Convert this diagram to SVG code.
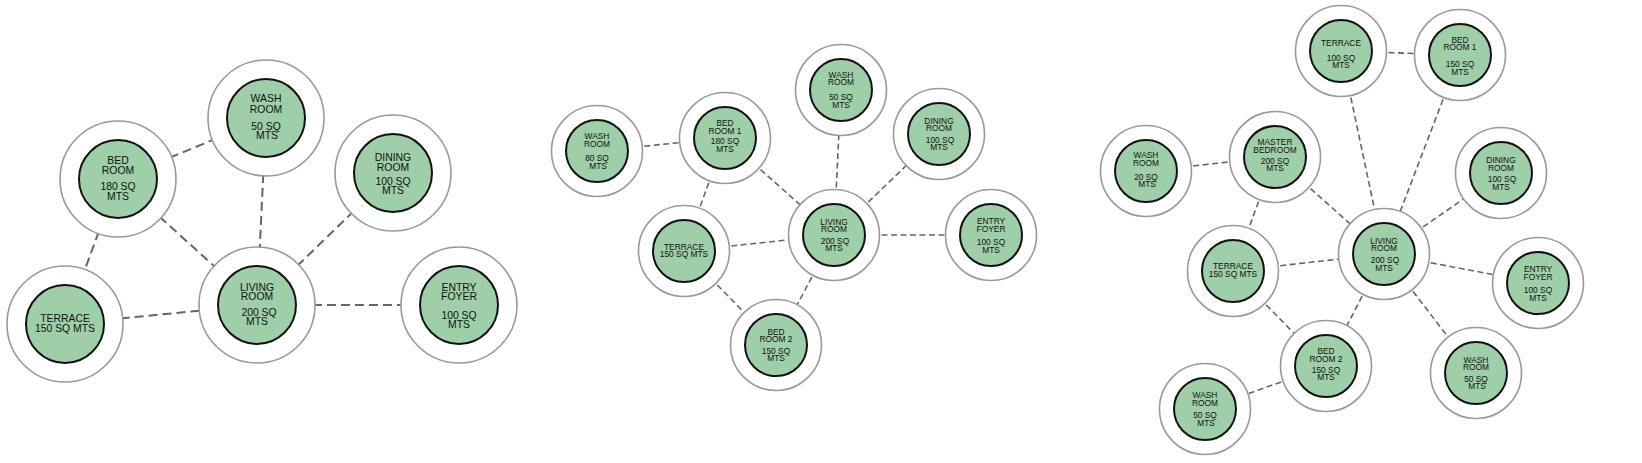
<svg xmlns="http://www.w3.org/2000/svg" width="1642" height="463" viewBox="0 0 1642 463">
<style>
.o{fill:#fff;stroke:#999;stroke-width:1.6}
.i{fill:#9ecfa8;stroke:#111;stroke-width:2}
.c1{stroke:#666;stroke-width:2;stroke-dasharray:9 5;fill:none}
.c2{stroke:#666;stroke-width:1.6;stroke-dasharray:6 3.5;fill:none}
.t1{font-family:"Liberation Sans",Arial,sans-serif;font-size:10.4px;fill:#111;text-anchor:middle}
.t2{font-family:"Liberation Sans",Arial,sans-serif;font-size:8.4px;fill:#111;text-anchor:middle}
</style>
<rect width="1642" height="463" fill="#fff"/>
<g id="connectors">
<!-- diagram 1 -->
<line class="c1" x1="118" y1="179" x2="266" y2="118"/>
<line class="c1" x1="266" y1="118" x2="257" y2="305"/>
<line class="c1" x1="118" y1="179" x2="257" y2="305"/>
<line class="c1" x1="118" y1="179" x2="65" y2="324"/>
<line class="c1" x1="65" y1="324" x2="257" y2="305"/>
<line class="c1" x1="257" y1="305" x2="393" y2="173"/>
<line class="c1" x1="257" y1="305" x2="459" y2="305"/>
<!-- diagram 2 -->
<line class="c2" x1="597" y1="151" x2="725" y2="138"/>
<line class="c2" x1="725" y1="138" x2="684" y2="251"/>
<line class="c2" x1="725" y1="138" x2="834" y2="235"/>
<line class="c2" x1="684" y1="251" x2="834" y2="235"/>
<line class="c2" x1="684" y1="251" x2="776" y2="345"/>
<line class="c2" x1="834" y1="235" x2="776" y2="345"/>
<line class="c2" x1="834" y1="235" x2="841" y2="90"/>
<line class="c2" x1="834" y1="235" x2="939" y2="134"/>
<line class="c2" x1="834" y1="235" x2="991" y2="235"/>
<!-- diagram 3 -->
<line class="c2" x1="1146" y1="171" x2="1275" y2="157"/>
<line class="c2" x1="1275" y1="157" x2="1233" y2="271"/>
<line class="c2" x1="1275" y1="157" x2="1384" y2="254"/>
<line class="c2" x1="1341" y1="51" x2="1460" y2="55"/>
<line class="c2" x1="1341" y1="51" x2="1384" y2="254"/>
<line class="c2" x1="1460" y1="55" x2="1384" y2="254"/>
<line class="c2" x1="1233" y1="271" x2="1384" y2="254"/>
<line class="c2" x1="1233" y1="271" x2="1326" y2="366"/>
<line class="c2" x1="1384" y1="254" x2="1326" y2="366"/>
<line class="c2" x1="1326" y1="366" x2="1205" y2="409"/>
<line class="c2" x1="1384" y1="254" x2="1476" y2="373"/>
<line class="c2" x1="1384" y1="254" x2="1501" y2="173"/>
<line class="c2" x1="1384" y1="254" x2="1538" y2="283"/>
</g>

<!-- Diagram 1 nodes -->
<g id="d1-wash" transform="translate(266,118)">
<circle class="o" r="58"/><circle class="i" r="39"/>
<text class="t1"><tspan x="0" y="-16">WASH</tspan><tspan x="0" y="-5">ROOM</tspan><tspan x="0" y="12">50 SQ</tspan><tspan x="1" y="21.4">MTS</tspan></text>
</g>
<g id="d1-bed" transform="translate(118,179)">
<circle class="o" r="58"/><circle class="i" r="39"/>
<text class="t1"><tspan x="0" y="-15">BED</tspan><tspan x="0" y="-5">ROOM</tspan><tspan x="0" y="11">180 SQ</tspan><tspan x="0" y="20.7">MTS</tspan></text>
</g>
<g id="d1-living" transform="translate(257,305)">
<circle class="o" r="58"/><circle class="i" r="39"/>
<text class="t1"><tspan x="0" y="-14">LIVING</tspan><tspan x="0" y="-4.6">ROOM</tspan><tspan x="2" y="11.4">200 SQ</tspan><tspan x="0" y="19.8">MTS</tspan></text>
</g>
<g id="d1-terrace" transform="translate(65,324)">
<circle class="o" r="58"/><circle class="i" r="39"/>
<text class="t1"><tspan x="0" y="-2">TERRACE</tspan><tspan x="0" y="8.4">150 SQ MTS</tspan></text>
</g>
<g id="d1-dining" transform="translate(393,173)">
<circle class="o" r="58"/><circle class="i" r="39"/>
<text class="t1"><tspan x="0" y="-11.6">DINING</tspan><tspan x="0" y="-2.3">ROOM</tspan><tspan x="0" y="12">100 SQ</tspan><tspan x="0" y="21">MTS</tspan></text>
</g>
<g id="d1-entry" transform="translate(459,305)">
<circle class="o" r="58"/><circle class="i" r="39"/>
<text class="t1"><tspan x="0" y="-14">ENTRY</tspan><tspan x="0" y="-4.6">FOYER</tspan><tspan x="0" y="13.7">100 SQ</tspan><tspan x="0" y="22.7">MTS</tspan></text>
</g>

<!-- Diagram 2 nodes -->
<g id="d2-wash80" transform="translate(597,151)">
<circle class="o" r="45.5"/><circle class="i" r="31"/>
<text class="t2"><tspan x="0" y="-12">WASH</tspan><tspan x="0" y="-4.3">ROOM</tspan><tspan x="0" y="10">80 SQ</tspan><tspan x="1" y="17.6">MTS</tspan></text>
</g>
<g id="d2-bed1" transform="translate(725,138)">
<circle class="o" r="45.5"/><circle class="i" r="31"/>
<text class="t2"><tspan x="0" y="-12">BED</tspan><tspan x="0" y="-4.3">ROOM 1</tspan><tspan x="0" y="6.3">180 SQ</tspan><tspan x="0" y="14.3">MTS</tspan></text>
</g>
<g id="d2-terrace" transform="translate(684,251)">
<circle class="o" r="45.5"/><circle class="i" r="31"/>
<text class="t2"><tspan x="0" y="-1.2">TERRACE</tspan><tspan x="0" y="6.4">150 SQ MTS</tspan></text>
</g>
<g id="d2-living" transform="translate(834,235)">
<circle class="o" r="45.5"/><circle class="i" r="31"/>
<text class="t2"><tspan x="0" y="-10.5">LIVING</tspan><tspan x="0" y="-3">ROOM</tspan><tspan x="1" y="8.5">200 SQ</tspan><tspan x="0" y="16">MTS</tspan></text>
</g>
<g id="d2-bed2" transform="translate(776,345)">
<circle class="o" r="45.5"/><circle class="i" r="31"/>
<text class="t2"><tspan x="0" y="-10.3">BED</tspan><tspan x="0" y="-2.7">ROOM 2</tspan><tspan x="0" y="8.7">150 SQ</tspan><tspan x="0" y="16.3">MTS</tspan></text>
</g>
<g id="d2-wash50" transform="translate(841,90)">
<circle class="o" r="45.5"/><circle class="i" r="31"/>
<text class="t2"><tspan x="0" y="-12.3">WASH</tspan><tspan x="0" y="-4.7">ROOM</tspan><tspan x="0" y="10">50 SQ</tspan><tspan x="0" y="17.6">MTS</tspan></text>
</g>
<g id="d2-dining" transform="translate(939,134)">
<circle class="o" r="45.5"/><circle class="i" r="31"/>
<text class="t2"><tspan x="0" y="-10.3">DINING</tspan><tspan x="0" y="-2.8">ROOM</tspan><tspan x="1" y="8.5">100 SQ</tspan><tspan x="0" y="16">MTS</tspan></text>
</g>
<g id="d2-entry" transform="translate(991,235)">
<circle class="o" r="45.5"/><circle class="i" r="31"/>
<text class="t2"><tspan x="0" y="-10.6">ENTRY</tspan><tspan x="0" y="-3.1">FOYER</tspan><tspan x="0" y="10.3">100 SQ</tspan><tspan x="0" y="18">MTS</tspan></text>
</g>

<!-- Diagram 3 nodes -->
<g id="d3-terrace100" transform="translate(1341,51)">
<circle class="o" r="45.5"/><circle class="i" r="31"/>
<text class="t2"><tspan x="0" y="-5">TERRACE</tspan><tspan x="0" y="9.5">100 SQ</tspan><tspan x="0" y="17">MTS</tspan></text>
</g>
<g id="d3-bed1" transform="translate(1460,55)">
<circle class="o" r="45.5"/><circle class="i" r="31"/>
<text class="t2"><tspan x="0" y="-12.5">BED</tspan><tspan x="0" y="-5">ROOM 1</tspan><tspan x="0" y="11.7">150 SQ</tspan><tspan x="0" y="20">MTS</tspan></text>
</g>
<g id="d3-master" transform="translate(1275,157)">
<circle class="o" r="45.5"/><circle class="i" r="31"/>
<text class="t2"><tspan x="0" y="-11.8">MASTER</tspan><tspan x="0" y="-4.3">BEDROOM</tspan><tspan x="0" y="6.5">200 SQ</tspan><tspan x="0" y="14">MTS</tspan></text>
</g>
<g id="d3-wash20" transform="translate(1146,171)">
<circle class="o" r="45.5"/><circle class="i" r="31"/>
<text class="t2"><tspan x="0" y="-12.7">WASH</tspan><tspan x="0" y="-5">ROOM</tspan><tspan x="0" y="8.8">20 SQ</tspan><tspan x="1" y="16.4">MTS</tspan></text>
</g>
<g id="d3-terrace150" transform="translate(1233,271)">
<circle class="o" r="45.5"/><circle class="i" r="31"/>
<text class="t2"><tspan x="0" y="-1.8">TERRACE</tspan><tspan x="0" y="5.7">150 SQ MTS</tspan></text>
</g>
<g id="d3-living" transform="translate(1384,254)">
<circle class="o" r="45.5"/><circle class="i" r="31"/>
<text class="t2"><tspan x="0" y="-10.2">LIVING</tspan><tspan x="0" y="-2.7">ROOM</tspan><tspan x="1" y="9">200 SQ</tspan><tspan x="0" y="16.7">MTS</tspan></text>
</g>
<g id="d3-dining" transform="translate(1501,173)">
<circle class="o" r="45.5"/><circle class="i" r="31"/>
<text class="t2"><tspan x="0" y="-9.6">DINING</tspan><tspan x="0" y="-2.1">ROOM</tspan><tspan x="1" y="9.4">100 SQ</tspan><tspan x="0" y="16.9">MTS</tspan></text>
</g>
<g id="d3-entry" transform="translate(1538,283)">
<circle class="o" r="45.5"/><circle class="i" r="31"/>
<text class="t2"><tspan x="0" y="-11">ENTRY</tspan><tspan x="0" y="-3.5">FOYER</tspan><tspan x="0" y="10">100 SQ</tspan><tspan x="0" y="17.7">MTS</tspan></text>
</g>
<g id="d3-wash50r" transform="translate(1476,373)">
<circle class="o" r="45.5"/><circle class="i" r="31"/>
<text class="t2"><tspan x="0" y="-10.5">WASH</tspan><tspan x="0" y="-3">ROOM</tspan><tspan x="0" y="8.6">50 SQ</tspan><tspan x="1" y="16.1">MTS</tspan></text>
</g>
<g id="d3-bed2" transform="translate(1326,366)">
<circle class="o" r="45.5"/><circle class="i" r="31"/>
<text class="t2"><tspan x="0" y="-11.7">BED</tspan><tspan x="0" y="-4.2">ROOM 2</tspan><tspan x="0" y="6.7">150 SQ</tspan><tspan x="0" y="14.3">MTS</tspan></text>
</g>
<g id="d3-wash50l" transform="translate(1205,409)">
<circle class="o" r="45.5"/><circle class="i" r="31"/>
<text class="t2"><tspan x="0" y="-11">WASH</tspan><tspan x="0" y="-2.7">ROOM</tspan><tspan x="0" y="9.4">50 SQ</tspan><tspan x="1" y="16.9">MTS</tspan></text>
</g>
</svg>
